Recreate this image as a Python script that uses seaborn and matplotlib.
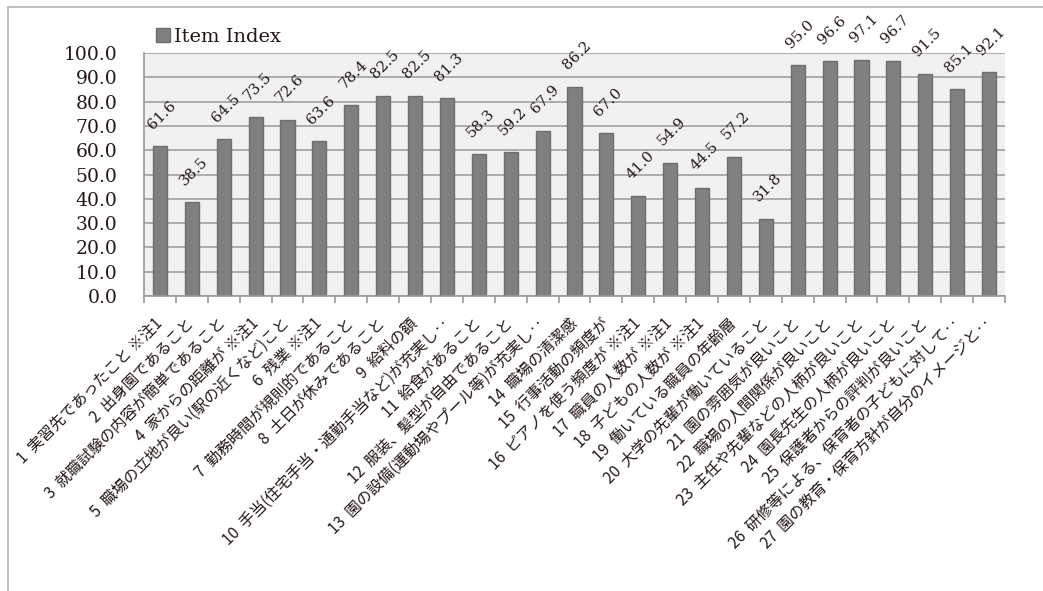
import seaborn as sns
import matplotlib.pyplot as plt
import matplotlib.lines as mlines
import matplotlib.patches as mpatches
from matplotlib.ticker import FixedLocator, FormatStrFormatter
import pandas as pd

items = [
    '1  実習先であったこと ※注1',
    '2  出身園であること',
    '3  就職試験の内容が簡単であること',
    '4  家からの距離が ※注1',
    '5  職場の立地が良い(駅の近くなど)こと',
    '6  残業 ※注1',
    '7  勤務時間が規則的であること',
    '8  土日が休みであること',
    '9  給料の額',
    '10  手当(住宅手当・通勤手当など)が充実し‥',
    '11  給食があること',
    '12  服装、髪型が自由であること',
    '13  園の設備(運動場やプール等)が充実し‥',
    '14  職場の清潔感',
    '15  行事活動の頻度が',
    '16  ピアノを使う頻度が ※注1',
    '17  職員の人数が ※注1',
    '18  子どもの人数が ※注1',
    '19  働いている職員の年齢層',
    '20  大学の先輩が働いていること',
    '21  園の雰囲気が良いこと',
    '22  職場の人間関係が良いこと',
    '23  主任や先輩などの人柄が良いこと',
    '24  園長先生の人柄が良いこと',
    '25  保護者からの評判が良いこと',
    '26  研修等による、保育者の子どもに対して‥',
    '27  園の教育・保育方針が自分のイメージと‥',
]
item_index = [61.6, 38.5, 64.5, 73.5, 72.6, 63.6, 78.4, 82.5, 82.5, 81.3,
              58.3, 59.2, 67.9, 86.2, 67.0, 41.0, 54.9, 44.5, 57.2, 31.8,
              95.0, 96.6, 97.1, 96.7, 91.5, 85.1, 92.1]
y_ticks = [0, 10, 20, 30, 40, 50, 60, 70, 80, 90, 100]

df = pd.DataFrame({'item': items, 'Item Index': item_index})

sns.set_style('white')
jp = ['Noto Sans CJK JP', 'DejaVu Sans']
serif = 'DejaVu Serif'

fig = plt.figure(figsize=(10.43, 5.91), dpi=100)
ax = fig.add_axes([144/1043, 1-296/591, (1005-144)/1043, (296-53)/591])
ax.set_facecolor('#f1f1f1')

sns.barplot(data=df, x='item', y='Item Index', color='#808080', saturation=1,
            width=0.44, edgecolor='#6e6e6e', linewidth=1, ax=ax)

ax.set_ylim(0, 100)
ax.set_xlim(-0.5, len(items)-0.5)
ax.yaxis.set_major_locator(FixedLocator(y_ticks))
ax.yaxis.set_major_formatter(FormatStrFormatter('%.1f'))
ax.grid(axis='y', color='#a6a6a6', linewidth=1.3)
ax.set_axisbelow(True)
ax.set_xlabel('')
ax.set_ylabel('')

for s in ['top', 'right']:
    ax.spines[s].set_visible(False)
for s in ['left', 'bottom']:
    ax.spines[s].set_color('#9a9a9a')
    ax.spines[s].set_linewidth(1.2)

ax.tick_params(axis='y', length=5, color='#9a9a9a', width=1.2, pad=14,
               labelsize=13.5, labelcolor='#231815')
for lab in ax.get_yticklabels():
    lab.set_family(serif)

# category boundaries get the tick marks, labels sit on the bar centres
ax.xaxis.set_minor_locator(FixedLocator([i - 0.5 for i in range(len(items) + 1)]))
ax.tick_params(axis='x', which='minor', length=5, color='#9a9a9a', width=1.2, bottom=True)
ax.tick_params(axis='x', which='major', length=0, pad=18, labelsize=11.2, labelcolor='#231815')
for lab in ax.get_xticklabels():
    lab.set_family(jp)
    lab.set_rotation(45)
    lab.set_rotation_mode('anchor')
    lab.set_ha('right')
    lab.set_va('center')

for i, v in enumerate(item_index):
    ax.annotate(f'{v:.1f}', xy=(i, v), xytext=(1.5, 22.5), textcoords='offset points',
                rotation=45, ha='center', va='center', fontsize=10.8,
                family=serif, color='#231815', annotation_clip=False)

handle = mpatches.Patch(facecolor='#808080', edgecolor='#6e6e6e', label='Item Index')
leg = fig.legend(handles=[handle], loc='center left', bbox_to_anchor=(148/1043, 1-37/591),
                 frameon=False, prop={'family': serif, 'size': 14},
                 handlelength=0.75, handleheight=0.75, handletextpad=0.2, borderaxespad=0)
for t in leg.get_texts():
    t.set_color('#231815')

# outer chart frame
fig.add_artist(mlines.Line2D([8/1043, 8/1043], [0, 1-7/591], color='#b5b5b5', linewidth=1.2))
fig.add_artist(mlines.Line2D([8/1043, 1], [1-7/591, 1-7/591], color='#b5b5b5', linewidth=1.2))

fig.savefig('out.png', dpi=100)
